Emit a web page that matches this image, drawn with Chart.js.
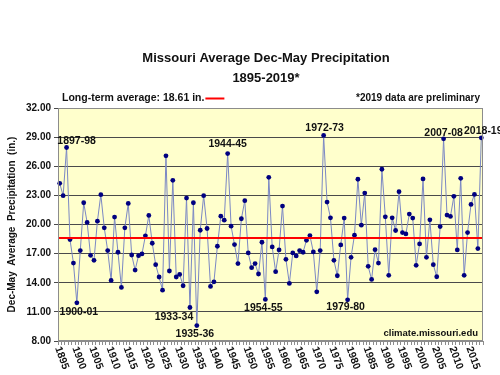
<!DOCTYPE html>
<html>
<head>
<meta charset="utf-8">
<script src="https://cdn.jsdelivr.net/npm/chart.js@4"></script>
<style>
html, body { margin: 0; padding: 0; background: #fff; }
#wrap { width: 500px; height: 375px; }
</style>
</head>
<body>
<div id="wrap"><canvas id="myChart" width="500" height="375"></canvas></div>
<script>
// Dec-May precipitation (inches), seasons starting 1895 .. 2018
const startYear = 1895;
const precip = [
  24.24, 22.97, 27.93, 18.45, 16.03, 11.93, 17.31, 22.24, 20.21, 16.83,
  16.31, 20.34, 23.07, 19.66, 17.31, 14.24, 20.76, 17.14, 13.52, 19.66,
  22.17, 16.86, 15.31, 16.79, 16.97, 18.83, 20.93, 18.07, 15.86, 14.59,
  13.24, 27.07, 15.21, 24.55, 14.59, 14.86, 13.69, 22.72, 11.45, 22.24,
  9.59, 19.41, 22.97, 19.59, 13.62, 14.10, 17.76, 20.86, 20.45, 27.31,
  19.83, 17.93, 15.97, 20.59, 22.45, 17.07, 15.55, 15.97, 14.90, 18.17,
  12.28, 24.86, 17.69, 15.14, 17.38, 21.90, 16.41, 13.93, 17.07, 16.76,
  17.31, 17.14, 18.38, 18.86, 17.17, 13.07, 17.31, 29.17, 22.31, 20.69,
  16.31, 14.72, 17.90, 20.66, 12.24, 16.62, 18.90, 24.66, 19.93, 23.24,
  15.69, 14.34, 17.41, 16.03, 25.69, 20.79, 14.76, 20.69, 19.38, 23.38,
  19.17, 19.03, 21.07, 20.66, 15.80, 18.00, 24.69, 16.62, 20.48, 15.86,
  14.62, 19.79, 28.83, 20.97, 20.83, 22.90, 17.38, 24.76, 14.76, 19.17,
  22.07, 23.10, 17.52, 28.93
];
const longTermAvg = 18.61;
const yTicks = [8, 11, 14, 17, 20, 23, 26, 29, 32];
const xTickYears = [1895, 1900, 1905, 1910, 1915, 1920, 1925, 1930, 1935, 1940, 1945, 1950,
  1955, 1960, 1965, 1970, 1975, 1980, 1985, 1990, 1995, 2000, 2005, 2010, 2015];

// labelled seasons: year of the point, text, offset of text centre from the point
const calloutYears = [1897, 1900, 1933, 1935, 1944, 1955, 1972, 1979, 2007, 2018];
const calloutText = ['1897-98', '1900-01', '1933-34', '1935-36', '1944-45', '1954-55', '1972-73', '1979-80', '2007-08', '2018-19'];
const calloutOffset = [[10, -6], [2, 9], [-16, 10], [-2, 9], [0, -9], [-2, 8.5], [1, -7], [-2, 7], [0, -6], [2, -7]];

let years = [];
for (let i = 0; i < precip.length; i++) {
  years.push(startYear + i);
}

const fontFam = "'Liberation Sans', Arial, sans-serif";
const textCol = '#111';

const decorations = {
  id: 'decorations',
  beforeDraw(chart) {
    const ctx = chart.ctx;
    const a = chart.chartArea;
    ctx.save();
    ctx.fillStyle = '#ffffcc';
    ctx.fillRect(a.left, a.top, a.right - a.left, a.bottom - a.top);
    ctx.restore();
  },
  afterDatasetsDraw(chart) {
    const ctx = chart.ctx;
    const a = chart.chartArea;
    const y = chart.scales.y.getPixelForValue(longTermAvg);
    ctx.save();
    ctx.strokeStyle = '#ff0000';
    ctx.lineWidth = 2.2;
    ctx.beginPath();
    ctx.moveTo(a.left, y);
    ctx.lineTo(a.right, y);
    ctx.stroke();
    ctx.strokeStyle = '#8c8c8c';
    ctx.lineWidth = 1;
    ctx.strokeRect(a.left + 0.5, a.top + 0.5, a.right - a.left - 1, a.bottom - a.top - 1);
    ctx.restore();
  },
  afterDraw(chart) {
    const ctx = chart.ctx;
    const a = chart.chartArea;
    const xs = chart.scales.x;
    const meta = chart.getDatasetMeta(0);
    ctx.save();
    ctx.fillStyle = textCol;
    ctx.textBaseline = 'middle';

    // title
    ctx.textAlign = 'center';
    ctx.font = 'bold 13px ' + fontFam;
    ctx.fillText('Missouri Average Dec-May Precipitation', 266, 58);
    ctx.fillText('1895-2019*', 266, 78);

    // notes above the plot
    ctx.textAlign = 'left';
    ctx.font = 'bold 10.5px ' + fontFam;
    ctx.fillText('Long-term average: 18.61 in.', 62, 98.5);
    const w = ctx.measureText('Long-term average: 18.61 in.').width;
    ctx.strokeStyle = '#ff0000';
    ctx.lineWidth = 2;
    ctx.beginPath();
    ctx.moveTo(62 + w + 1, 98.5);
    ctx.lineTo(62 + w + 20, 98.5);
    ctx.stroke();
    ctx.textAlign = 'right';
    ctx.font = 'bold 10px ' + fontFam;
    ctx.fillText('*2019 data are preliminary', 480, 98.5);

    // source
    ctx.font = 'bold 9.5px ' + fontFam;
    ctx.fillText('climate.missouri.edu', a.right - 5, a.bottom - 8);

    // point callouts
    ctx.textAlign = 'center';
    ctx.font = 'bold 10.5px ' + fontFam;
    for (let i = 0; i < calloutYears.length; i++) {
      const p = meta.data[calloutYears[i] - startYear];
      ctx.fillText(calloutText[i], p.x + calloutOffset[i][0], p.y + calloutOffset[i][1]);
    }

    // rotated year labels
    ctx.font = 'bold 10.5px ' + fontFam;
    ctx.textAlign = 'left';
    for (let i = 0; i < xTickYears.length; i++) {
      const x = xs.getPixelForValue(xTickYears[i] - startYear);
      ctx.save();
      ctx.translate(x - 2, a.bottom + 6);
      ctx.rotate(70 * Math.PI / 180);
      ctx.fillText(String(xTickYears[i]), 0, 0);
      ctx.restore();
    }
    ctx.restore();
  }
};

const ctx = document.getElementById('myChart').getContext('2d');
const myChart = new Chart(ctx, {
  type: 'line',
  data: {
    labels: years,
    datasets: [{
      label: 'Dec-May precipitation',
      data: precip,
      borderColor: '#7b88c4',
      borderWidth: 1,
      pointRadius: 2.4,
      pointBackgroundColor: '#000080',
      pointBorderColor: '#000080',
      pointBorderWidth: 0,
      tension: 0
    }]
  },
  options: {
    responsive: false,
    animation: false,
    devicePixelRatio: 1,
    layout: { padding: { top: 108, right: 17, bottom: 0, left: 0 } },
    plugins: {
      legend: { display: false },
      title: { display: false },
      tooltip: { enabled: false }
    },
    scales: {
      x: {
        type: 'category',
        offset: true,
        grid: { drawOnChartArea: false, drawTicks: true, tickLength: 4, color: '#8c8c8c', offset: true },
        border: { display: true, color: '#8c8c8c' },
        ticks: { display: false },
        afterFit: function (scale) { scale.height = 34; }
      },
      y: {
        min: 8,
        max: 32,
        afterBuildTicks: function (scale) {
          scale.ticks = yTicks.map(v => ({ value: v }));
        },
        ticks: {
          callback: v => Number(v).toFixed(2),
          font: { family: fontFam, size: 10, weight: 'bold' },
          color: textCol,
          padding: 3
        },
        grid: { color: '#4a4a4a', lineWidth: 1, tickLength: 4 },
        border: { display: true, color: '#8c8c8c' },
        title: {
          display: true,
          text: 'Dec-May  Average  Precipitation  (in.)',
          font: { family: fontFam, size: 10, weight: 'bold' },
          color: textCol,
          padding: { top: 6, bottom: 0 }
        },
        afterFit: function (scale) { scale.width = 58; }
      }
    }
  },
  plugins: [decorations]
});
</script>
</body>
</html>
